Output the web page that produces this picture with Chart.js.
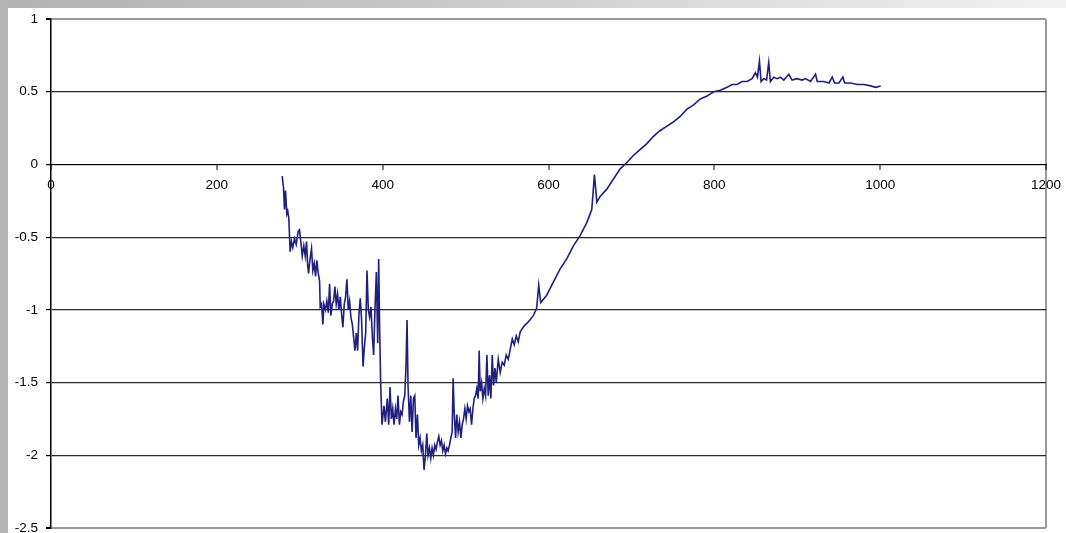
<!DOCTYPE html>
<html>
<head>
<meta charset="utf-8">
<script src="https://cdn.jsdelivr.net/npm/chart.js@4/dist/chart.umd.min.js"></script>
<style>
html,body{margin:0;padding:0;background:#fff;width:1066px;height:533px;overflow:hidden;position:relative;}
#topband{position:absolute;left:0;top:0;width:1066px;height:8px;background:linear-gradient(to right,#b2b2b2 0%,#c8c8c8 40%,#e2e2e2 75%,#f2f2f2 100%);}
#leftband{position:absolute;left:0;top:0;width:8px;height:533px;background:#b4b4b4;}
#c{position:absolute;left:0;top:0;}
</style>
</head>
<body>
<div id="topband"></div>
<div id="leftband"></div>
<canvas id="c" width="1066" height="533"></canvas>
<script>
const xValues = [
278.8,280.4,281.6,282.8,284.4,285.5,286.8,288.4,290,291.6,293.7,295.7,298.1,299.7,301.3,303,304.9,306.6,308.2,309.4,
310.6,312.2,314.2,315.8,317.5,319,320.6,322.3,323.9,324.7,326.3,327.9,329.1,331.1,332.7,334.4,336,337.5,339.2,340.8,
342.4,344,345.6,347.2,348.9,350.5,352,353.7,355.3,356.9,358.5,360.1,361.7,363.4,365,366.6,368.2,369.8,371.4,373,
374.6,376.3,377.9,379.5,381.1,382.7,384.3,385.9,387.6,389.1,390.7,392.4,394,395.2,396.4,397.6,399.2,401.6,403.3,405.6,
407.3,408.9,410.5,412.1,413.7,415.4,417,418.5,420.2,421.8,423.4,425,426.6,428.2,429.4,430.6,432.3,433.9,435.5,437.1,
438.7,440.2,441.9,443.5,445.1,446.7,448.3,449.9,451.6,453.2,454.7,456.4,458,459.6,461.2,462.8,464.4,466,467.7,469.3,
470.9,472.5,474.1,475.7,477.4,478.9,480.6,482.2,483.8,485,486.2,487.9,489.4,491,492.7,494.3,495.9,497.5,499.1,500.7,
502.3,504,505.5,507.2,508.8,510.4,512,513.6,515.2,516.4,517.6,519.3,520.9,522.5,524.1,525.7,527.3,528.9,530.5,532.1,
533.7,535.4,537,539.4,541.8,544.2,546.6,549,551.5,553.9,556.3,558.7,561.1,563.5,565.9,568.3,570.8,576,581.7,585.7,
588.2,590.6,597.8,605.8,613.9,622,630,638.1,646.2,652.2,655.4,658.3,662.3,670.3,678.4,686.4,694,702,710,718,
726,734,742,750,758.9,767,775,783.1,791.2,799.2,807.3,815.3,821.4,827.4,833.4,839.5,845.5,849.5,852,854.4,
856.4,859.6,863,865.6,867.6,871.7,875.7,879.7,883.8,889.8,893.8,899.9,905.9,910,916,922,924.1,932.1,938.2,942.2,
945,950.3,955.1,957.1,964.4,972.5,980.5,988.5,994.6,1000.6
];
const yValues = [
-0.08,-0.16,-0.31,-0.18,-0.34,-0.32,-0.37,-0.60,-0.53,-0.57,-0.51,-0.55,-0.46,-0.45,-0.53,-0.63,-0.56,-0.63,-0.53,-0.68,
-0.75,-0.66,-0.58,-0.73,-0.68,-0.77,-0.66,-0.75,-0.80,-0.98,-0.96,-1.10,-0.96,-1.00,-0.94,-1.02,-0.82,-1.04,-0.96,-0.94,
-0.84,-0.96,-0.89,-1.00,-0.91,-1.03,-1.12,-0.96,-0.91,-0.79,-1.00,-0.94,-1.05,-1.10,-1.19,-1.28,-1.16,-1.28,-1.03,-0.92,
-1.07,-1.39,-1.26,-1.16,-0.73,-1.00,-1.05,-0.98,-1.19,-1.31,-1.00,-0.74,-1.23,-0.65,-1.14,-1.51,-1.79,-1.66,-1.77,-1.61,
-1.79,-1.53,-1.75,-1.68,-1.79,-1.68,-1.75,-1.59,-1.79,-1.70,-1.72,-1.63,-1.59,-1.38,-1.07,-1.52,-1.77,-1.59,-1.84,-1.61,
-1.59,-1.88,-1.72,-1.93,-1.88,-1.97,-1.93,-2.10,-2.00,-1.85,-2.00,-1.95,-2.02,-1.95,-2.00,-1.93,-1.96,-1.91,-1.87,-1.93,
-1.90,-1.97,-1.93,-1.99,-1.95,-1.97,-1.93,-1.88,-1.84,-1.47,-1.70,-1.88,-1.72,-1.84,-1.77,-1.88,-1.79,-1.75,-1.68,-1.75,
-1.66,-1.70,-1.68,-1.79,-1.68,-1.61,-1.59,-1.54,-1.61,-1.28,-1.56,-1.50,-1.61,-1.54,-1.59,-1.31,-1.59,-1.45,-1.61,-1.31,
-1.52,-1.40,-1.50,-1.34,-1.43,-1.36,-1.38,-1.31,-1.34,-1.27,-1.20,-1.24,-1.18,-1.22,-1.15,-1.13,-1.11,-1.08,-1.04,-0.99,
-0.83,-0.95,-0.90,-0.81,-0.72,-0.65,-0.56,-0.49,-0.40,-0.31,-0.07,-0.26,-0.22,-0.17,-0.10,-0.03,0.01,0.06,0.10,0.14,
0.19,0.23,0.26,0.29,0.33,0.38,0.41,0.45,0.47,0.50,0.51,0.53,0.55,0.55,0.57,0.57,0.59,0.63,0.60,0.71,
0.57,0.59,0.58,0.70,0.57,0.60,0.59,0.60,0.58,0.62,0.58,0.59,0.58,0.59,0.57,0.62,0.57,0.57,0.56,0.60,
0.56,0.56,0.60,0.56,0.56,0.55,0.55,0.54,0.53,0.54
];
const xTicks = [0,200,400,600,800,1000,1200];
const yTicks = [-2.5,-2,-1.5,-1,-0.5,0,0.5,1];

const points = xValues.map((x,i)=>({x:x,y:yValues[i]}));

new Chart(document.getElementById('c'), {
  type: 'scatter',
  data: {
    datasets: [{
      data: points,
      showLine: true,
      borderColor: '#1f1f80',
      borderWidth: 1.6,
      pointRadius: 0,
      tension: 0,
      fill: false
    }]
  },
  options: {
    responsive: false,
    animation: false,
    events: [],
    layout: { padding: { left: 0, top: 19, right: 20, bottom: 5 } },
    plugins: { legend: { display: false }, tooltip: { enabled: false } },
    scales: {
      x: {
        type: 'linear',
        position: { y: 0 },
        min: 0, max: 1200,
        afterBuildTicks: s => { s.ticks = xTicks.map(v => ({ value: v })); },
        afterFit: s => { s.paddingLeft = 0; s.paddingRight = 0; s.paddingTop = 0; s.paddingBottom = 0; },
        ticks: {
          color: '#000',
          font: { family: 'Liberation Sans, Arial, sans-serif', size: 13.5 },
          padding: 8,
          maxRotation: 0,
          autoSkip: false,
          callback: v => String(v)
        },
        grid: {
          color: ctx => (ctx.tick && ctx.tick.value === 1200) ? '#9a9a9a' : 'rgba(0,0,0,0)',
          lineWidth: 2,
          tickColor: '#000',
          tickLength: 5,
          tickWidth: 1,
          drawOnChartArea: true
        },
        border: { display: true, color: '#000', width: 1 }
      },
      y: {
        type: 'linear',
        position: 'left',
        min: -2.5, max: 1,
        afterBuildTicks: s => { s.ticks = yTicks.map(v => ({ value: v })); },
        afterFit: s => { s.width = 51; s.paddingTop = 0; s.paddingBottom = 0; },
        ticks: {
          color: '#000',
          font: { family: 'Liberation Sans, Arial, sans-serif', size: 13.5 },
          padding: 8,
          callback: v => String(v)
        },
        grid: {
          color: ctx => (ctx.tick && (ctx.tick.value === 1 || ctx.tick.value === -2.5)) ? '#9a9a9a' : '#2a2a2a',
          lineWidth: ctx => (ctx.tick && (ctx.tick.value === 1 || ctx.tick.value === -2.5)) ? 2 : 1.2,
          tickColor: '#000',
          tickLength: 5,
          drawOnChartArea: true
        },
        border: { display: true, color: '#000', width: 1.5 }
      }
    }
  }
});
</script>
</body>
</html>
